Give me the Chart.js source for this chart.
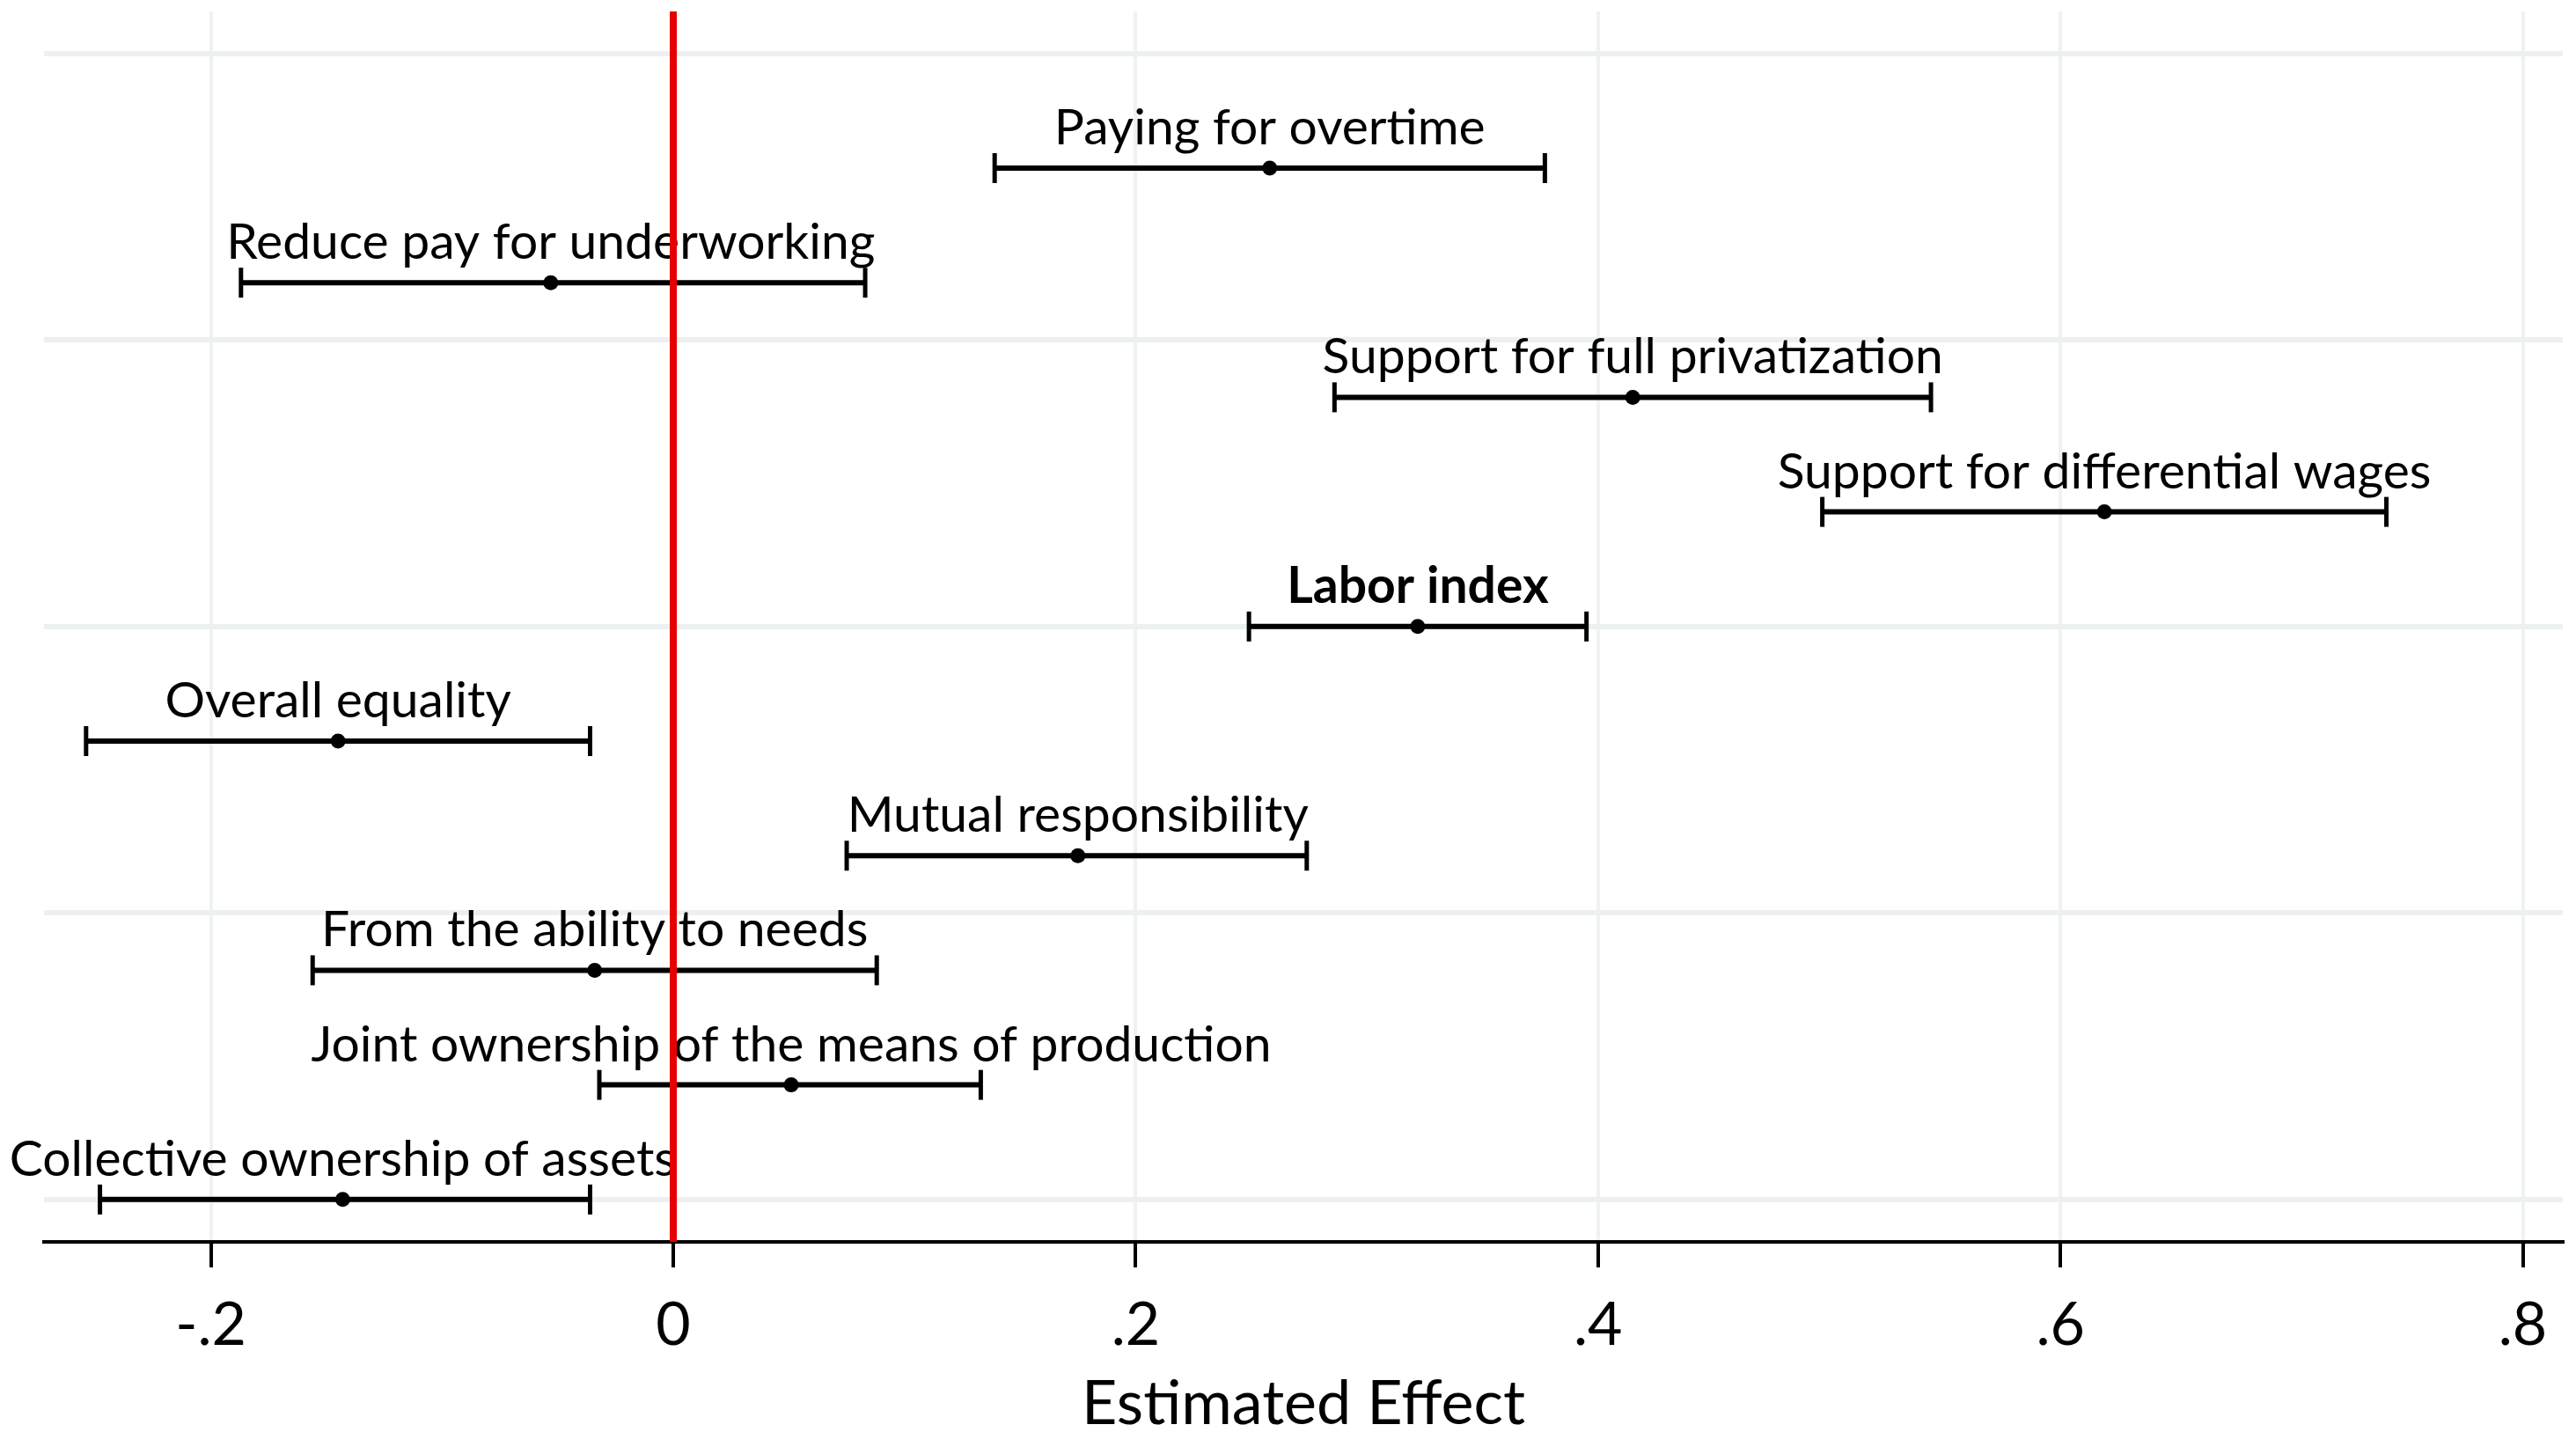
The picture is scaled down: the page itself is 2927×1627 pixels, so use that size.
<!DOCTYPE html>
<html>
<head>
<meta charset="utf-8">
<title>Estimated Effect</title>
<script src="https://cdn.jsdelivr.net/npm/chart.js@4.4.1/dist/chart.umd.min.js"></script>
<style>
  html, body { margin: 0; padding: 0; background: #fff; }
  #wrap { width: 2927px; height: 1627px; }
</style>
</head>
<body>
<div id="wrap"><canvas id="effectChart" width="2927" height="1627"></canvas></div>
<script>
// Items from top to bottom
const items = [
    'Paying for overtime',
    'Reduce pay for underworking',
    'Support for full privatization',
    'Support for differential wages',
    'Labor index',
    'Overall equality',
    'Mutual responsibility',
    'From the ability to needs',
    'Joint ownership of the means of production',
    'Collective ownership of assets'
];
const estimates = [0.258, -0.053, 0.415, 0.619, 0.322, -0.145, 0.175, -0.034, 0.051, -0.143];
const lowerCI  = [0.139, -0.187, 0.286, 0.497, 0.249, -0.254, 0.075, -0.156, -0.032, -0.248];
const upperCI  = [0.377, 0.083, 0.544, 0.741, 0.395, -0.036, 0.274, 0.088, 0.133, -0.036];
const boldItems = ['Labor index'];

const xTickValues = [-0.2, 0, 0.2, 0.4, 0.6, 0.8];
const xTickLabels = ['-.2', '0', '.2', '.4', '.6', '.8'];
const yGridValues = [0, 2.5, 5, 7.5, 10];

const FONT = 'Lato';

// Labels above each bar + the red line at zero
const annotate = {
    id: 'annotate',
    afterDatasetsDraw(chart) {
        const {ctx, chartArea, scales: {x, y}} = chart;
        ctx.save();
        ctx.fillStyle = '#000';
        ctx.textAlign = 'center';
        ctx.textBaseline = 'alphabetic';
        items.forEach((name, i) => {
            ctx.font = (boldItems.includes(name) ? 'bold ' : '') + '57px ' + FONT;
            ctx.fillText(name, x.getPixelForValue(estimates[i]), y.getPixelForValue(i + 1) - 27);
        });
        const x0 = x.getPixelForValue(0);
        ctx.strokeStyle = '#e80000';
        ctx.lineWidth = 8;
        ctx.beginPath();
        ctx.moveTo(x0, chartArea.top);
        ctx.lineTo(x0, chartArea.bottom);
        ctx.stroke();
        ctx.restore();
    }
};

function draw() {
    // one line per item for the interval, caps drawn as rotated 'line' points
    const intervalSets = items.map((name, i) => ({
        type: 'line',
        label: name,
        data: [{x: lowerCI[i], y: i + 1}, {x: upperCI[i], y: i + 1}],
        borderColor: '#000',
        borderWidth: 6,
        pointStyle: 'line',
        pointRotation: 90,
        pointRadius: 17,
        pointBorderWidth: 5,
        pointBorderColor: '#000',
        fill: false,
        order: 2
    }));

    new Chart(document.getElementById('effectChart'), {
        type: 'scatter',
        data: {
            datasets: [...intervalSets, {
                label: 'Estimate',
                data: items.map((n, i) => ({x: estimates[i], y: i + 1})),
                pointRadius: 8.5,
                pointBackgroundColor: '#000',
                pointBorderWidth: 0,
                order: 1
            }]
        },
        options: {
            responsive: false,
            animation: false,
            events: [],
            layout: {
                autoPadding: false,
                padding: { left: 50, right: 15, top: 13, bottom: 0 }
            },
            plugins: { legend: { display: false }, tooltip: { enabled: false } },
            scales: {
                x: {
                    type: 'linear',
                    min: -0.2722,
                    max: 0.8173,
                    afterBuildTicks: axis => { axis.ticks = xTickValues.map(v => ({value: v})); },
                    afterFit: axis => {
                        axis.height = 216;
                        axis.paddingLeft = 0;
                        axis.paddingRight = 0;
                    },
                    grid: {
                        color: '#eef2f3',
                        lineWidth: 4,
                        tickLength: 29,
                        tickColor: '#000',
                        tickWidth: 4
                    },
                    border: { color: '#000', width: 4 },
                    ticks: {
                        padding: 32,
                        color: '#000',
                        font: { family: FONT, size: 68, lineHeight: 1 },
                        callback: (v, i) => xTickLabels[i]
                    },
                    title: {
                        display: true,
                        text: 'Estimated Effect',
                        color: '#000',
                        font: { family: FONT, size: 70, lineHeight: 0.9 },
                        padding: { top: 0, bottom: 0 }
                    }
                },
                y: {
                    type: 'linear',
                    reverse: true,
                    min: -0.367,
                    max: 10.37,
                    afterBuildTicks: axis => { axis.ticks = yGridValues.map(v => ({value: v})); },
                    afterFit: axis => {
                        axis.width = 0;
                        axis.paddingTop = 0;
                        axis.paddingBottom = 0;
                    },
                    grid: { color: '#ecf0f1', lineWidth: 6, drawTicks: false },
                    border: { display: false },
                    ticks: { display: false }
                }
            }
        },
        plugins: [annotate]
    });
}

document.fonts.load('57px ' + FONT).then(draw, draw);
</script>
</body>
</html>
